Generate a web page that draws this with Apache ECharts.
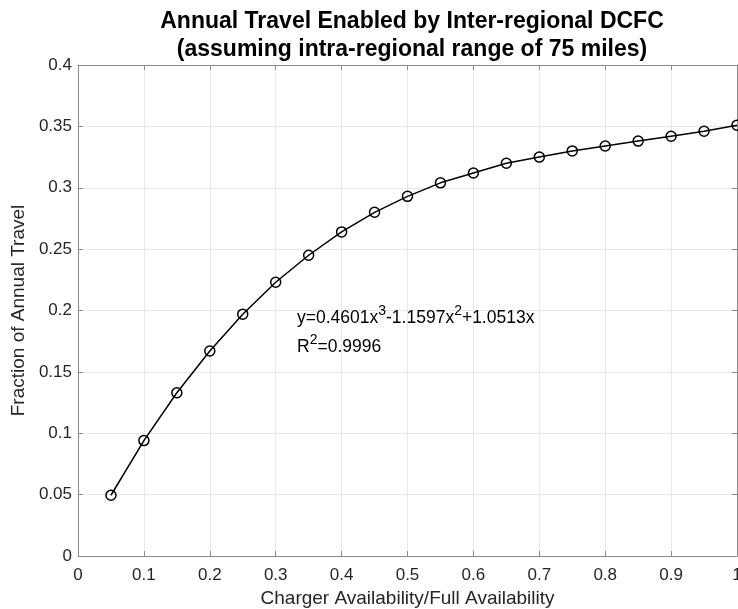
<!DOCTYPE html>
<html>
<head>
<meta charset="utf-8">
<script src="https://cdn.jsdelivr.net/npm/echarts@6/dist/echarts.min.js"></script>
<style>
  html, body { margin: 0; padding: 0; background: #fff; }
  #chart { width: 738px; height: 609px; }
</style>
</head>
<body>
<div id="chart"></div>
<script>
// charger availability (fraction of full)
let availability = [0.05, 0.1, 0.15, 0.2, 0.25, 0.3, 0.35, 0.4, 0.45, 0.5,
                    0.55, 0.6, 0.65, 0.7, 0.75, 0.8, 0.85, 0.9, 0.95, 1.0];
// fraction of annual travel
let travelFraction = [0.0495, 0.094, 0.133, 0.167, 0.197, 0.223, 0.245, 0.264, 0.280, 0.293,
                      0.304, 0.312, 0.320, 0.325, 0.330, 0.334, 0.338, 0.342, 0.346, 0.351];
let xTicks = [0, 0.1, 0.2, 0.3, 0.4, 0.5, 0.6, 0.7, 0.8, 0.9, 1];
let yTicks = [0, 0.05, 0.1, 0.15, 0.2, 0.25, 0.3, 0.35, 0.4];

let font = 'Liberation Sans, Arial, Helvetica, sans-serif';
let chart = echarts.init(document.getElementById('chart'));

let axisBase = {
    axisLine: { show: true, onZero: false, lineStyle: { color: '#8a8a8a', width: 1 } },
    axisTick: { show: true, inside: true, length: 5, lineStyle: { color: '#8a8a8a' } }
};

chart.setOption({
    animation: false,
    backgroundColor: '#fff',
    title: {
        text: 'Annual Travel Enabled by Inter-regional DCFC\n(assuming intra-regional range of 75 miles)',
        left: 407,
        textAlign: 'center',
        top: 3,
        textStyle: { fontFamily: font, fontSize: 23, fontWeight: 'bold', color: '#000', lineHeight: 28 }
    },
    grid: { left: 78, right: 1, top: 65, bottom: 53, outerBoundsMode: 'none', containLabel: false },
    xAxis: [
        Object.assign({}, axisBase, {
            type: 'value', min: 0, max: 1, interval: 0.1,
            name: 'Charger Availability/Full Availability',
            nameLocation: 'middle', nameGap: 33,
            nameTextStyle: { fontFamily: font, fontSize: 19, color: '#262626' },
            axisLabel: { fontFamily: font, fontSize: 17, color: '#262626', margin: 11,
                formatter: v => xTicks.includes(+v.toFixed(2)) ? String(+v.toFixed(2)) : '' },
            splitLine: { show: true, lineStyle: { color: '#e8e8e8', width: 1 } }
        }),
        Object.assign({}, axisBase, {
            type: 'value', min: 0, max: 1, interval: 0.1, position: 'top',
            axisLabel: { show: false }, splitLine: { show: false }
        })
    ],
    yAxis: [
        Object.assign({}, axisBase, {
            type: 'value', min: 0, max: 0.4, interval: 0.05,
            name: 'Fraction of Annual Travel',
            nameLocation: 'middle', nameGap: 48,
            nameTextStyle: { fontFamily: font, fontSize: 19, color: '#262626' },
            axisLabel: { fontFamily: font, fontSize: 17, color: '#262626', margin: 6,
                formatter: v => yTicks.includes(+v.toFixed(2)) ? String(+v.toFixed(2)) : '' },
            splitLine: { show: true, lineStyle: { color: '#e8e8e8', width: 1 } }
        }),
        Object.assign({}, axisBase, {
            type: 'value', min: 0, max: 0.4, interval: 0.05, position: 'right',
            axisLabel: { show: false }, splitLine: { show: false }
        })
    ],
    series: [{
        type: 'line',
        data: availability.map((x, i) => [x, travelFraction[i]]),
        symbol: 'circle',
        symbolSize: 10,
        showAllSymbol: true,
        lineStyle: { color: '#000', width: 1.5 },
        itemStyle: { color: 'rgba(0,0,0,0)', borderColor: '#000', borderWidth: 1.5 },
        z: 5
    }],
    graphic: [{
        type: 'text',
        left: 297,
        top: 304,
        z: 100,
        style: {
            text: '{n|y=0.4601x}{s|3}{n|-1.1597x}{s|2}{n|+1.0513x}\n{n|R}{s|2}{n|=0.9996}',
            rich: {
                n: { fontFamily: font, fontSize: 17.5, color: '#000', lineHeight: 29 },
                s: { fontFamily: font, fontSize: 14, color: '#000', lineHeight: 14, verticalAlign: 'top' }
            }
        }
    }]
});
</script>
</body>
</html>
